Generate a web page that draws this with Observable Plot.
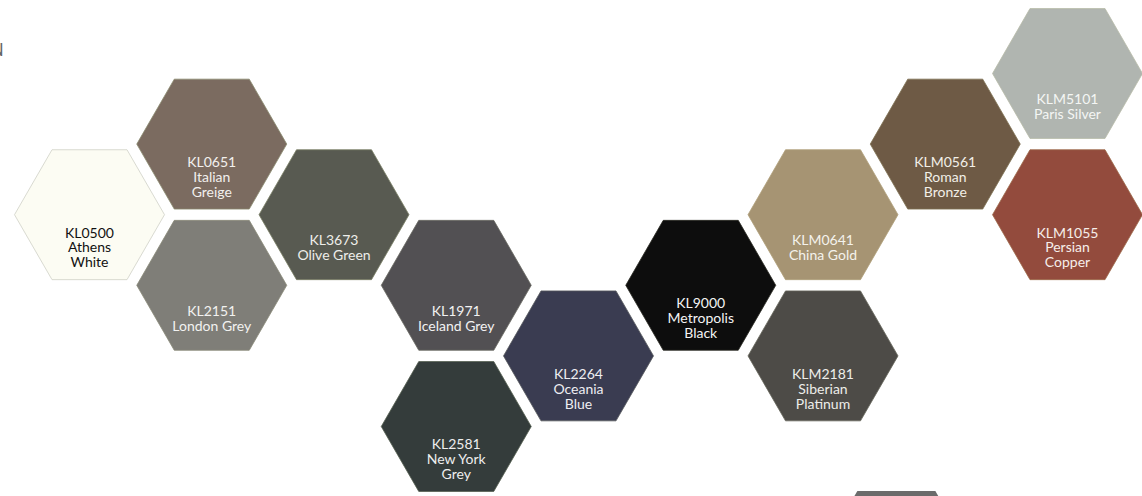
<!DOCTYPE html>
<html>
<head>
<meta charset="utf-8">
<script src="https://cdn.jsdelivr.net/npm/d3@7"></script>
<script src="https://cdn.jsdelivr.net/npm/@observablehq/plot@0.6"></script>
<style>
  html, body { margin: 0; padding: 0; background: #fff; overflow: hidden; }
  #wrap { position: relative; width: 1142px; height: 496px; }
  #corner { position: absolute; left: -10px; top: 38px; font: 18px "Lato", sans-serif; color: #666; }
</style>
</head>
<body>
<div id="wrap"><div id="corner">N</div></div>
<script>
// Swatch data (grid column, half-row, code, name, colour)
const codes  = ["KL0500", "KL0651", "KL2151", "KL3673", "KL1971", "KL2581", "KL2264", "KL9000", "KLM0641", "KLM2181", "KLM0561", "KLM5101", "KLM1055"];
const names  = ["Athens\nWhite", "Italian\nGreige", "London Grey", "Olive Green", "Iceland Grey", "New York\nGrey", "Oceania\nBlue", "Metropolis\nBlack", "China Gold", "Siberian\nPlatinum", "Roman\nBronze", "Paris Silver", "Persian\nCopper"];
const cols   = [0, 1, 1, 2, 3, 3, 4, 5, 6, 6, 7, 8, 8];
const rows   = [2, 1, 3, 2, 3, 5, 4, 3, 2, 4, 1, 0, 2];
const fills  = ["#fcfcf3", "#7b6b60", "#7f7e78", "#585a51", "#525053", "#343c3b", "#3a3c51", "#0d0d0d", "#a69473", "#4d4b47", "#6e5a45", "#b0b5b0", "#934b3d"];
const strokes = ["#cfd0c6", "#8a8a6e", "#8a8a78", "#7b8066", "#6a6a62", "#556050", "#55585c", "#2a2a22", "#b0a07a", "#66665a", "#7d7050", "#b8bba8", "#9d6a4a"];
const inks   = ["#111111", "#f2f0ee", "#f2f2f0", "#eeeeea", "#f2f2f2", "#eeeeee", "#eeeef2", "#f4f4f4", "#f4f2ec", "#eeeeea", "#f2efe8", "#f4f6f4", "#f6eeea"];
// partly visible swatch at the bottom edge
const partialCols = [6.6];
const partialRows = [6.87];
const partialFills = ["#6b6b6b"];

const swatches = codes.map((c, i) => ({code: c, name: names[i], col: cols[i], row: rows[i], fill: fills[i], stroke: strokes[i], ink: inks[i], label: c + "\n" + names[i]}));
const partial = partialCols.map((c, i) => ({col: c, row: partialRows[i], fill: partialFills[i]}));

// flat-topped hexagon symbol; size = PI*r^2
const flatHex = {
  draw(ctx, size) {
    const r = Math.sqrt(size / Math.PI);
    for (let k = 0; k < 6; ++k) {
      const a = k * Math.PI / 3;
      const x = r * Math.cos(a), y = r * Math.sin(a);
      if (k === 0) ctx.moveTo(x, y); else ctx.lineTo(x, y);
    }
    ctx.closePath();
  }
};

const colStep = 122.25, rowStep = 70.6, x0 = 89, y0 = 73;
const chart = Plot.plot({
  width: 1142,
  height: 496,
  margin: 0,
  x: {domain: [-x0 / colStep, (1142 - x0) / colStep], range: [0, 1142], axis: null},
  y: {domain: [-y0 / rowStep, (496 - y0) / rowStep], range: [0, 496], axis: null},
  marks: [
    Plot.dot(partial, {x: "col", y: "row", r: 78, symbol: flatHex, fill: "fill", stroke: "none"}),
    Plot.dot(swatches, {x: "col", y: "row", r: 75, symbol: flatHex, fill: "fill", stroke: "stroke", strokeWidth: 0.8}),
    Plot.text(swatches, {x: "col", y: "row", text: "label", fill: "ink", lineAnchor: "middle", dy: 33, lineHeight: 1.07, fontSize: 14, fontFamily: "Lato, sans-serif"})
  ]
});
document.getElementById("wrap").appendChild(chart);
</script>
</body>
</html>
